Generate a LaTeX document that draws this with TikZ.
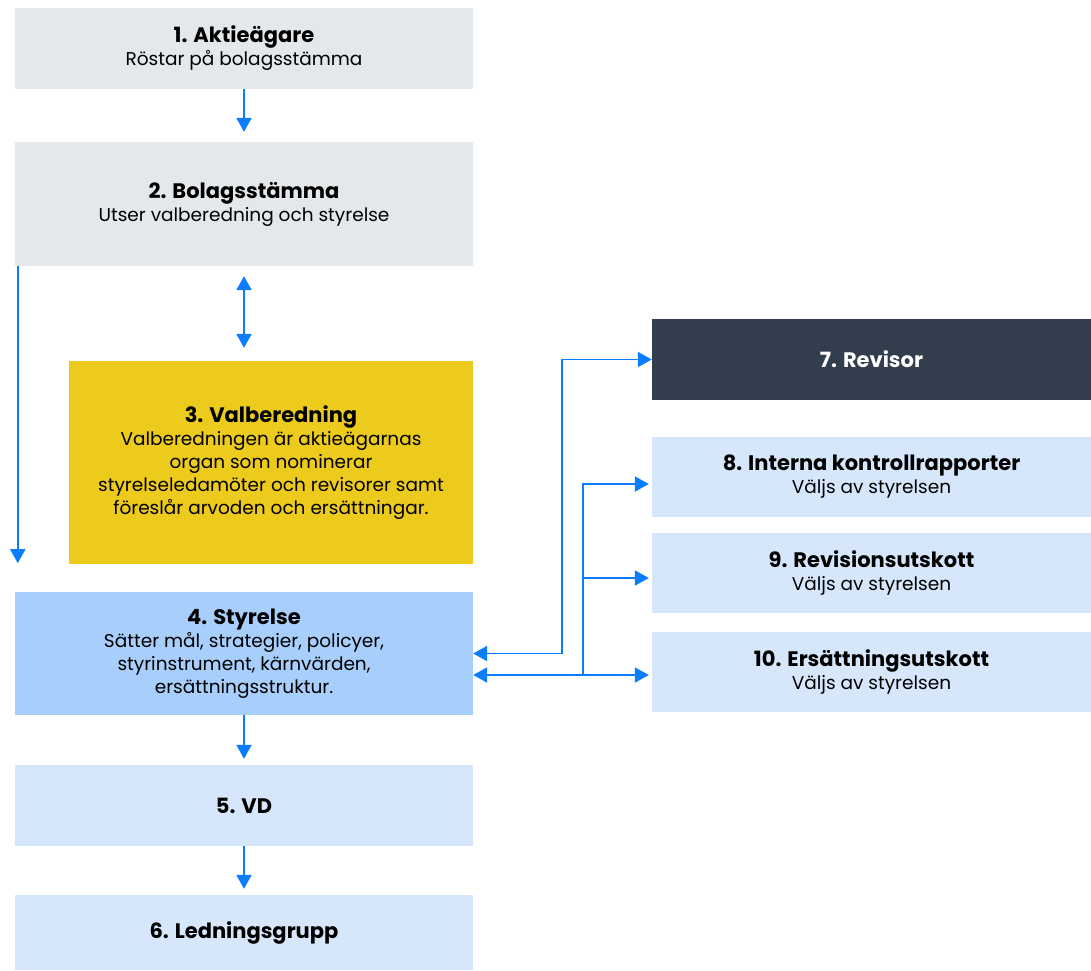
\documentclass[tikz,border=0pt]{standalone}
\usepackage{fontspec}
\setmainfont{Poppins}
\usetikzlibrary{arrows.meta,calc}
\definecolor{boxgray}{HTML}{E5E8EB}
\definecolor{boxyellow}{HTML}{EDCB1C}
\definecolor{boxblue}{HTML}{A8CFFC}
\definecolor{boxlight}{HTML}{D6E7FC}
\definecolor{boxdark}{HTML}{323E4D}
\definecolor{arrowblue}{HTML}{0A7CFF}
\tikzset{
  box/.style={rectangle, inner sep=0pt, align=center, text=black, font=\fontsize{18.5}{23}\selectfont},
  conn/.style={draw=arrowblue, line width=1.8pt, -{Triangle[length=14pt,width=15pt]}},
  conn2/.style={draw=arrowblue, line width=1.8pt, {Triangle[length=14pt,width=15pt]}-{Triangle[length=14pt,width=15pt]}}
}
\newcommand{\ttlx}[1]{{\fontsize{21}{25}\selectfont\bfseries #1}}
\begin{document}
\begin{tikzpicture}[x=1pt,y=-1pt]
\useasboundingbox (0,0) rectangle (1091,970);
\fill[white] (0,0) rectangle (1091,970);
% left column
\node[box, fill=boxgray, minimum width=458pt, minimum height=81pt] (b1) at (244,48.5) {\ttlx{1. Aktieägare}\\Röstar på bolagsstämma};
\node[box, fill=boxgray, minimum width=458pt, minimum height=124pt] (b2) at (244,204) {\ttlx{2. Bolagsstämma}\\Utser valberedning och styrelse};
\node[box, fill=boxyellow, minimum width=404pt, minimum height=203pt] (b3) at (271,462.5) {\ttlx{3. Valberedning}\\Valberedningen är aktieägarnas\\organ som nominerar\\styrelseledamöter och revisorer samt\\föreslår arvoden och ersättningar.};
\node[box, fill=boxblue, minimum width=458pt, minimum height=123pt] (b4) at (244,653.5) {\ttlx{4. Styrelse}\\Sätter mål, strategier, policyer,\\styrinstrument, kärnvärden,\\ersättningsstruktur.};
\node[box, fill=boxlight, minimum width=458pt, minimum height=81pt] (b5) at (244,805.5) {\ttlx{5. VD}};
\node[box, fill=boxlight, minimum width=458pt, minimum height=75pt] (b6) at (244,932.5) {\ttlx{6. Ledningsgrupp}};
% right column
\node[box, fill=boxdark, text=white, minimum width=439pt, minimum height=81pt] (b7) at (871.5,359.5) {\ttlx{7. Revisor}};
\node[box, fill=boxlight, minimum width=439pt, minimum height=80pt] (b8) at (871.5,477) {\ttlx{8. Interna kontrollrapporter}\\Väljs av styrelsen};
\node[box, fill=boxlight, minimum width=439pt, minimum height=80pt] (b9) at (871.5,573) {\ttlx{9. Revisionsutskott}\\Väljs av styrelsen};
\node[box, fill=boxlight, minimum width=439pt, minimum height=80pt] (b10) at (871.5,672) {\ttlx{10. Ersättningsutskott}\\Väljs av styrelsen};
% connectors
\draw[conn, shorten >=10pt] (b1.south) -- (b2.north);
\draw[conn2, shorten <=10pt, shorten >=13pt] (b2.south) -- (b2.south |- b3.north);
\draw[conn, shorten >=1pt] ([xshift=3pt]b2.south west) -- ([xshift=3pt]b2.south west |- b3.south);
\draw[conn, shorten >=6pt] (b4.south) -- (b5.north);
\draw[conn, shorten >=6pt] (b5.south) -- (b6.north);
\coordinate (j1) at ([xshift=-90pt]b7.west);
\draw[conn2] (b4.east) -| (j1) -- (b7.west);
\coordinate (l2) at ([yshift=-21.5pt]b4.east);
\coordinate (r2) at (l2 -| b10.west);
\coordinate (v2) at ([xshift=110pt]l2);
\draw[conn2, shorten >=3pt] (l2) -- (r2);
\coordinate (t8) at ([yshift=-7pt]b8.west);
\coordinate (t9) at ([yshift=-5pt]b9.west);
\draw[conn, shorten >=3pt] (v2) |- (t8);
\draw[conn, shorten >=3pt] (v2 |- t9) -- (t9);
\end{tikzpicture}
\end{document}
